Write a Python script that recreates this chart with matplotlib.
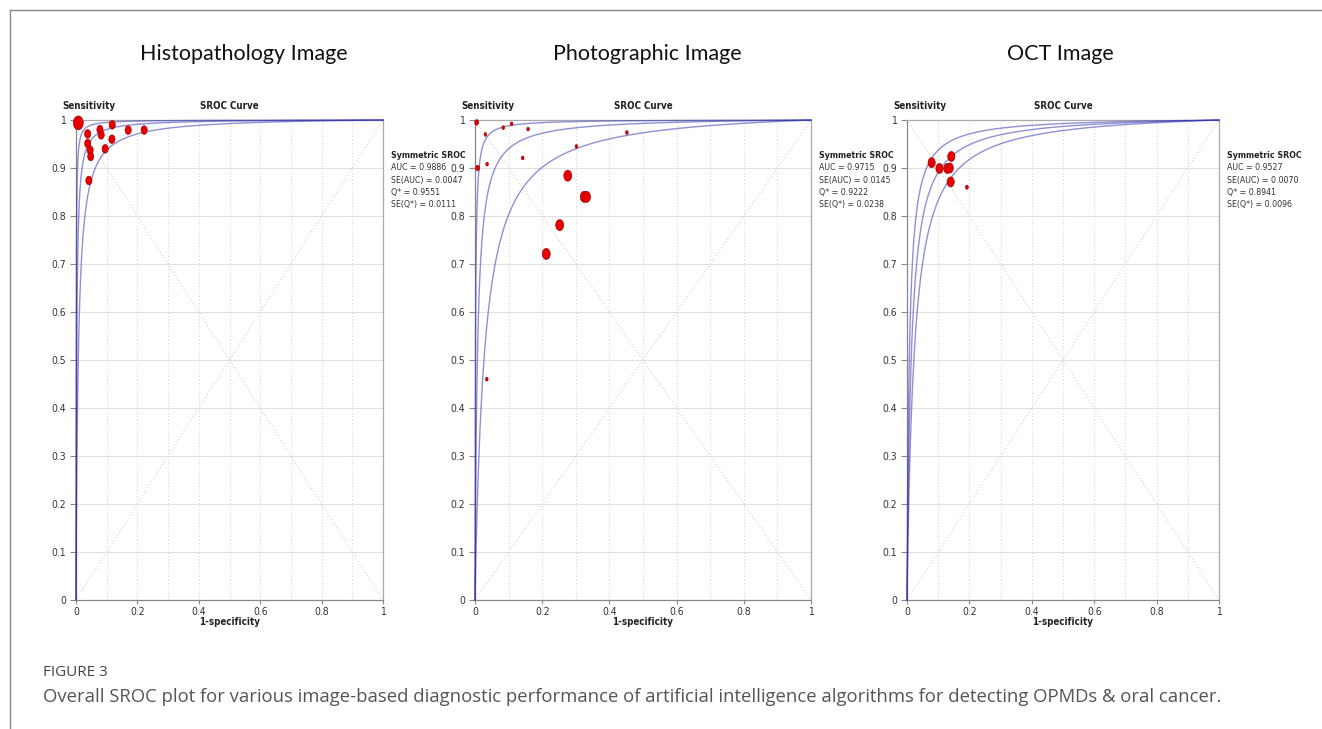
import numpy as np
import matplotlib
matplotlib.use('Agg')
import matplotlib.pyplot as plt
from matplotlib.path import Path
from matplotlib.lines import Line2D
from matplotlib import font_manager
from matplotlib.font_manager import FontProperties

# Data
titles = ['Histopathology Image', 'Photographic Image', 'OCT Image']

hist_fpr = [0.0075, 0.038, 0.038, 0.046, 0.048, 0.042, 0.078, 0.082, 0.118, 0.117, 0.095, 0.170, 0.222]
hist_sens = [0.994, 0.971, 0.951, 0.937, 0.924, 0.874, 0.980, 0.969, 0.990, 0.960, 0.940, 0.979, 0.979]
hist_w = [4.0, 2.5, 2.5, 2.5, 2.5, 2.5, 2.5, 2.5, 2.5, 2.5, 2.5, 2.5, 2.5]

photo_fpr = [0.005, 0.031, 0.008, 0.036, 0.084, 0.109, 0.158, 0.142, 0.302, 0.452, 0.035,
             0.276, 0.325, 0.332, 0.252, 0.212]
photo_sens = [0.995, 0.970, 0.900, 0.908, 0.984, 0.992, 0.981, 0.921, 0.945, 0.974, 0.460,
              0.884, 0.840, 0.840, 0.781, 0.721]
photo_w = [1.6, 1.1, 1.6, 1.1, 1.1, 1.1, 1.1, 1.1, 1.1, 1.1, 1.1, 3.2, 3.2, 3.2, 3.2, 3.2]

oct_fpr = [0.079, 0.104, 0.129, 0.137, 0.142, 0.140, 0.192]
oct_sens = [0.911, 0.899, 0.899, 0.900, 0.924, 0.871, 0.860]
oct_w = [2.9, 2.9, 2.9, 2.9, 2.9, 2.9, 1.2]

# SROC curves: logit(TPR) - logit(FPR) for upper, middle, lower curve
hist_a = [7.5, 6.1, 4.9]
photo_a = [6.6, 4.95, 3.6]
oct_a = [4.9, 4.3, 3.8]

auc = ['0.9886', '0.9715', '0.9527']
se_auc = ['0.0047', '0.0145', '0.0070']
q_star = ['0.9551', '0.9222', '0.8941']
se_q = ['0.0111', '0.0238', '0.0096']

x_ticks = [0, 0.2, 0.4, 0.6, 0.8, 1]
x_labels = ['0', '0.2', '0.4', '0.6', '0.8', '1']
y_ticks = [0, 0.1, 0.2, 0.3, 0.4, 0.5, 0.6, 0.7, 0.8, 0.9, 1]
y_labels = ['0', '0.1', '0.2', '0.3', '0.4', '0.5', '0.6', '0.7', '0.8', '0.9', '1']

caption = ('Overall SROC plot for various image-based diagnostic performance of artificial '
           'intelligence algorithms for detecting OPMDs & oral cancer.')


# a narrow font for the small chart texts, if one is installed
def find_narrow(bold=False):
    files = [f.fname for f in font_manager.fontManager.ttflist]
    wanted = ['LiberationSansNarrow-Bold', 'DejaVuSansCondensed-Bold'] if bold else \
             ['LiberationSansNarrow-Regular', 'DejaVuSansCondensed.ttf']
    for key in wanted:
        for fn in files:
            if key.lower() in fn.lower():
                return FontProperties(fname=fn)
    fp = FontProperties(family='DejaVu Sans', stretch='condensed')
    if bold:
        fp.set_weight('bold')
    return fp


narrow = find_narrow()
narrow_b = find_narrow(bold=True)
title_font = 'Lato'
cap_font = 'Open Sans'

W, H = 1322, 729
fig = plt.figure(figsize=(W / 100, H / 100), dpi=100)

# panel geometry in pixels
lefts = [76, 475, 907]
widths = [307, 336, 312]
top_px, bot_px = 120, 600
title_x = [244, 647, 1060]

circle = Path.unit_circle()
ellipse = Path(circle.vertices * np.array([0.72, 1.0]), circle.codes)

panels = [
    (hist_fpr, hist_sens, hist_w, hist_a),
    (photo_fpr, photo_sens, photo_w, photo_a),
    (oct_fpr, oct_sens, oct_w, oct_a),
]

xs = np.concatenate([np.logspace(-6, -2, 200), np.linspace(0.01, 1, 400)])


def small(size):
    fp = narrow.copy()
    fp.set_size(size)
    return fp


def small_b(size):
    fp = narrow_b.copy()
    fp.set_size(size)
    return fp


for i, (fpr, sens, w, a_vals) in enumerate(panels):
    ax = fig.add_axes([lefts[i] / W, 1 - bot_px / H, widths[i] / W, (bot_px - top_px) / H])
    ax.set_xlim(0, 1)
    ax.set_ylim(0, 1)

    # grid and diagonals
    ax.set_xticks(x_ticks)
    ax.set_xticks(np.arange(0, 1.01, 0.1), minor=True)
    ax.set_yticks(y_ticks)
    ax.grid(which='both', axis='x', color='#d6d6d6', linestyle=(0, (1, 2)), linewidth=0.8)
    ax.grid(axis='y', color='#e0e0e0', linestyle='-', linewidth=0.7)
    ax.plot([0, 1], [0, 1], color='#d0d0d0', linestyle=(0, (1, 2)), linewidth=0.8, zorder=1)
    ax.plot([0, 1], [1, 0], color='#d0d0d0', linestyle=(0, (1, 2)), linewidth=0.8, zorder=1)

    for a in a_vals:
        xv = xs[xs < 1]
        tpr = 1 / (1 + np.exp(-(a + np.log(xv / (1 - xv)))))
        ax.plot(np.append(xv, 1), np.append(tpr, 1), color='#2a2ab0', alpha=0.52,
                linewidth=1.0, zorder=3, clip_on=False)

    ax.scatter(fpr, sens, s=(2.5 * np.array(w)) ** 2, marker=ellipse, c='#e80000',
               edgecolors='#900000', linewidths=0.4, zorder=5, clip_on=False)

    ax.set_xticklabels(x_labels)
    ax.set_yticklabels(y_labels)
    ax.tick_params(which='minor', length=0)
    ax.tick_params(axis='x', which='major', length=3, pad=2, color='#888888',
                   labelcolor='#333333')
    ax.tick_params(axis='y', length=4, pad=3, color='#888888', labelcolor='#333333')
    for lab in ax.get_xticklabels() + ax.get_yticklabels():
        lab.set_fontproperties(small(7.5))
    for side in ['left', 'bottom']:
        ax.spines[side].set_color('#888888')
    for side in ['top', 'right']:
        ax.spines[side].set_color('#aaaaaa')
    for sp in ax.spines.values():
        sp.set_linewidth(0.9)

    ax.annotate('Sensitivity', xy=(0, 1), xycoords='axes fraction', xytext=(-10, 10),
                textcoords='offset points', ha='left', va='center',
                fontproperties=small_b(7), color='#222222')
    ax.annotate('SROC Curve', xy=(0.5, 1), xycoords='axes fraction', xytext=(0, 10),
                textcoords='offset points', ha='center', va='center',
                fontproperties=small_b(7), color='#222222')
    ax.annotate('1-specificity', xy=(0.5, 0), xycoords='axes fraction', xytext=(0, -16),
                textcoords='offset points', ha='center', va='center',
                fontproperties=small_b(7), color='#222222')

    lines = ['AUC = ' + auc[i], 'SE(AUC) = ' + se_auc[i], 'Q* = ' + q_star[i],
             'SE(Q*) = ' + se_q[i]]
    ax.annotate('Symmetric SROC', xy=(1, 1), xycoords='axes fraction', xytext=(6, -25.5),
                textcoords='offset points', ha='left', va='center',
                fontproperties=small_b(6.3), color='#222222')
    for k, t in enumerate(lines):
        ax.annotate(t, xy=(1, 1), xycoords='axes fraction', xytext=(6, -34.5 - 8.8 * k),
                    textcoords='offset points', ha='left', va='center',
                    fontproperties=small(6.3), color='#333333')

    fig.text(title_x[i] / W, 1 - 54 / H, titles[i], ha='center', va='center',
             fontsize=15.5, family=title_font, color='#111111')

fig.text(43 / W, 1 - 672 / H, 'FIGURE 3', ha='left', va='center', fontsize=11,
         family=cap_font, color='#444444')
fig.text(43 / W, 1 - 697 / H, caption, ha='left', va='center', fontsize=13.35,
         family=cap_font, color='#555555')

# frame lines around the figure block
fig.add_artist(Line2D([10 / W, 1], [1 - 10 / H, 1 - 10 / H], color='#888888', linewidth=1))
fig.add_artist(Line2D([10 / W, 10 / W], [0, 1 - 10 / H], color='#888888', linewidth=1))

fig.savefig('out.png', dpi=100)
